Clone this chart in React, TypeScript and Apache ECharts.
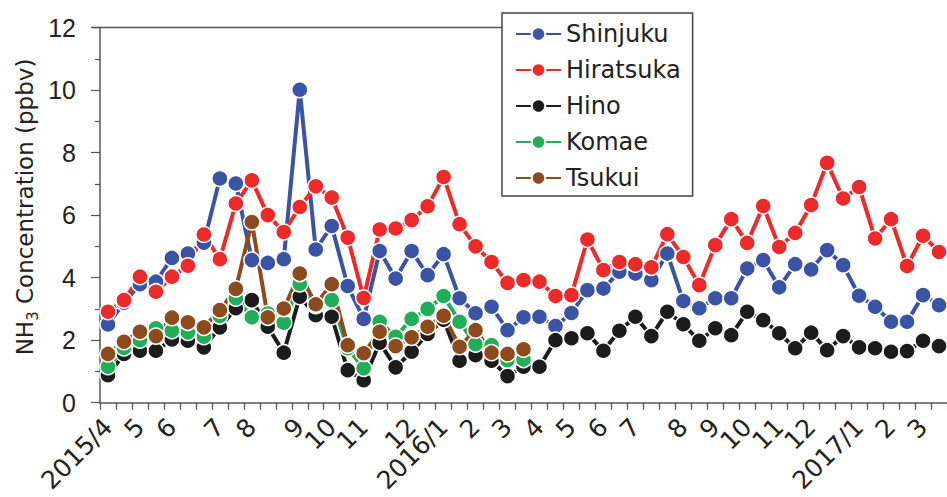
import React, { useEffect, useRef } from 'react';
import * as echarts from 'echarts';

// x positions (sample index) at which month labels are printed
const labelAt = [0, 2, 4, 7, 9, 12, 14, 16, 19, 21, 23, 25, 27, 29, 31, 33, 36, 38, 40, 42, 44, 47, 49, 51];
const labelText = ['2015/4', '5', '6', '7', '8', '9', '10', '11', '12', '2016/1', '2', '3', '4', '5', '6', '7', '8', '9', '10', '11', '12', '2017/1', '2', '3'];
const sampleCount = 53;

const shinjuku = [2.5, 3.2, 3.79, 3.87, 4.63, 4.77, 5.12, 7.17, 7.01, 4.56, 4.47, 4.59, 10.01, 4.9, 5.65, 3.73, 2.68, 4.85, 3.97, 4.85, 4.08, 4.75, 3.34, 2.86, 3.07, 2.32, 2.73, 2.75, 2.45, 2.87, 3.6, 3.65, 4.19, 4.13, 3.92, 4.77, 3.25, 3.02, 3.34, 3.34, 4.29, 4.56, 3.69, 4.43, 4.26, 4.88, 4.4, 3.42, 3.07, 2.59, 2.59, 3.44, 3.12];
const hiratsuka = [2.91, 3.28, 4.03, 3.55, 4.03, 4.38, 5.38, 4.59, 6.37, 7.11, 6.0, 5.46, 6.26, 6.92, 6.56, 5.28, 3.35, 5.54, 5.57, 5.84, 6.28, 7.22, 5.71, 5.0, 4.5, 3.83, 3.92, 3.87, 3.41, 3.44, 5.22, 4.24, 4.5, 4.43, 4.33, 5.39, 4.66, 3.76, 5.04, 5.87, 5.11, 6.29, 4.98, 5.43, 6.32, 7.67, 6.53, 6.9, 5.25, 5.87, 4.37, 5.34, 4.82];
const hino = [0.88, 1.56, 1.66, 1.66, 2.02, 1.98, 1.77, 2.41, 3.02, 3.28, 2.43, 1.6, 3.39, 2.8, 2.75, 1.04, 0.72, 1.92, 1.13, 1.63, 2.2, 2.65, 1.34, 1.52, 1.34, 0.85, 1.15, 1.15, 2.0, 2.06, 2.22, 1.66, 2.3, 2.75, 2.13, 2.91, 2.51, 1.98, 2.38, 2.16, 2.91, 2.64, 2.22, 1.74, 2.24, 1.68, 2.13, 1.77, 1.74, 1.63, 1.65, 1.98, 1.81];
const komae = [1.15, 1.75, 2.0, 2.38, 2.3, 2.25, 2.11, 2.77, 3.34, 2.73, 2.85, 2.56, 3.8, 3.1, 3.28, 1.74, 1.1, 2.59, 2.11, 2.68, 3.0, 3.41, 2.59, 1.87, 1.84, 1.36, 1.38];
const tsukui = [1.56, 1.95, 2.27, 2.13, 2.72, 2.57, 2.41, 2.96, 3.64, 5.78, 2.73, 3.01, 4.13, 3.15, 3.79, 1.84, 1.58, 2.27, 1.81, 2.09, 2.43, 2.78, 1.79, 2.32, 1.6, 1.56, 1.71];

const seriesNames = ['Shinjuku', 'Hiratsuka', 'Hino', 'Komae', 'Tsukui'];
const seriesColors = ['#3a53a5', '#ec2a2a', '#1c1c1c', '#22ad58', '#8c4a1d'];
const seriesData = [shinjuku, hiratsuka, hino, komae, tsukui];

const categories = Array.from({ length: sampleCount }, (_, i) => 's' + i);

export default function App() {
  const ref = useRef<HTMLDivElement>(null);
  useEffect(() => {
    if (!ref.current) return;
    const chart = echarts.init(ref.current, undefined, { renderer: 'svg' });
    const axisColor = '#555';
    chart.setOption({
      animation: false,
      backgroundColor: '#fff',
      grid: { left: 100, top: 27.5, width: 16.07 * sampleCount, height: 375.2, containLabel: false },
      legend: {
        orient: 'vertical',
        left: 502,
        top: 13,
        padding: [9, 12, 6, 13],
        itemGap: 12,
        itemWidth: 45,
        itemHeight: 17,
        backgroundColor: '#fff',
        borderColor: '#444',
        borderWidth: 1.5,
        textStyle: { fontFamily: 'DejaVu Sans', fontSize: 24, color: '#222', padding: [0, 0, 0, 0] },
        data: seriesNames,
      },
      xAxis: {
        type: 'category',
        data: categories,
        boundaryGap: true,
        axisLine: { lineStyle: { color: axisColor, width: 1.5 } },
        axisTick: { show: true, interval: 0, length: 7, lineStyle: { color: axisColor, width: 1.2 } },
        axisLabel: {
          interval: 0,
          rotate: 45,
          margin: 20,
          fontFamily: 'DejaVu Sans',
          fontSize: 25,
          color: '#222',
          formatter: (_v: string, idx: number) => {
            const k = labelAt.indexOf(idx);
            return k >= 0 ? labelText[k] : '';
          },
        },
        splitLine: { show: false },
      },
      yAxis: {
        type: 'value',
        min: 0,
        max: 12,
        interval: 2,
        axisLine: { show: true, lineStyle: { color: axisColor, width: 1.5 } },
        axisTick: { show: true, length: 9, lineStyle: { color: axisColor, width: 1.2 } },
        minorTick: { show: true, splitNumber: 2, length: 5, lineStyle: { color: axisColor, width: 1.2 } },
        axisLabel: { margin: 24, fontFamily: 'Liberation Sans', fontSize: 25, color: '#222' },
        splitLine: { show: false },
      },
      graphic: [
        {
          type: 'line',
          shape: { x1: 92, y1: 27.5, x2: 502, y2: 27.5 },
          style: { stroke: axisColor, lineWidth: 1.5 },
          z: 1,
        },
        {
          type: 'text',
          x: 25,
          y: 207,
          rotation: Math.PI / 2,
          style: {
            text: '{a|NH}{s|3}{a| Concentration (ppbv)}',
            align: 'center',
            verticalAlign: 'middle',
            fill: '#222',
            rich: {
              a: { fontFamily: 'DejaVu Sans', fontSize: 23, lineHeight: 30, verticalAlign: 'middle', fill: '#222' },
              s: { fontFamily: 'DejaVu Sans', fontSize: 15, lineHeight: 15, verticalAlign: 'bottom', fill: '#222' },
            },
          },
        },
      ],
      series: seriesNames.map((name, k) => ({
        name,
        type: 'line',
        data: seriesData[k],
        symbol: 'circle',
        symbolSize: 16,
        lineStyle: { width: 4, color: seriesColors[k] },
        itemStyle: { color: seriesColors[k], borderColor: '#fff', borderWidth: 1.5 },
        emphasis: { disabled: true },
      })),
    });
    return () => chart.dispose();
  }, []);
  return <div ref={ref} style={{ position: 'fixed', left: 0, top: 0, width: 947, height: 497 }} />;
}
